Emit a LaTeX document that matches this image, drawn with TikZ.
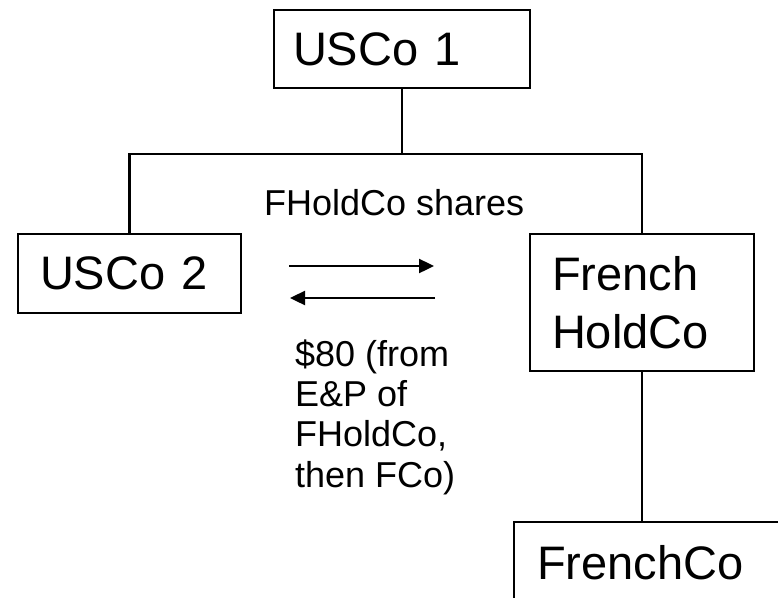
\documentclass[tikz,border=0pt]{standalone}
\usepackage{fontspec}
\setmainfont{Liberation Sans}
\usetikzlibrary{arrows.meta}
\begin{document}
\begin{tikzpicture}[x=1pt,y=-1pt,
  box/.style={draw, line width=2.8pt, anchor=north west, align=left, inner ysep=0pt, outer sep=0pt, font=\fontsize{47}{58}\selectfont},
  link/.style={line width=2.8pt},
  flow/.style={line width=2.4pt, -{Triangle[length=15pt,width=14pt]}},
  lbl/.style={anchor=base west, align=left, inner sep=0pt, font=\fontsize{36}{40.3}\selectfont}]
\clip (0,0) rectangle (778,597);
\node[box, text width=218pt, inner xsep=19pt, minimum height=78pt] (u1) at (274,10) {USCo 1};
\node[box, text width=179pt, inner xsep=22pt, minimum height=79pt] (u2) at (18,234) {USCo 2};
\node[box, text width=180pt, inner xsep=22pt, minimum height=137pt] (fh) at (530,234) {French\\HoldCo};
\node[box, text width=234pt, inner xsep=23pt, minimum height=81pt] (fc) at (514,522) {FrenchCo};
\coordinate (bus) at (0,154);
\draw[link] (u1.south) -- (u1.south |- bus);
\draw[link] (u2.north) -- (u2.north |- bus) -- (fh.north |- bus) -- (fh.north);
\draw[link] (fh.south) -- (fh.south |- fc.north);
\node[lbl] (sh) at (264,215) {FHoldCo shares};
\node[lbl] (pay) at (295,487) {\$80 (from\\E\&P of\\FHoldCo,\\then FCo)};
\coordinate (a1s) at (289,266);
\coordinate (a1e) at (434,266);
\coordinate (a2s) at (435,298);
\coordinate (a2e) at (290,298);
\draw[flow] (a1s) -- (a1e);
\draw[flow] (a2s) -- (a2e);
\end{tikzpicture}
\end{document}
